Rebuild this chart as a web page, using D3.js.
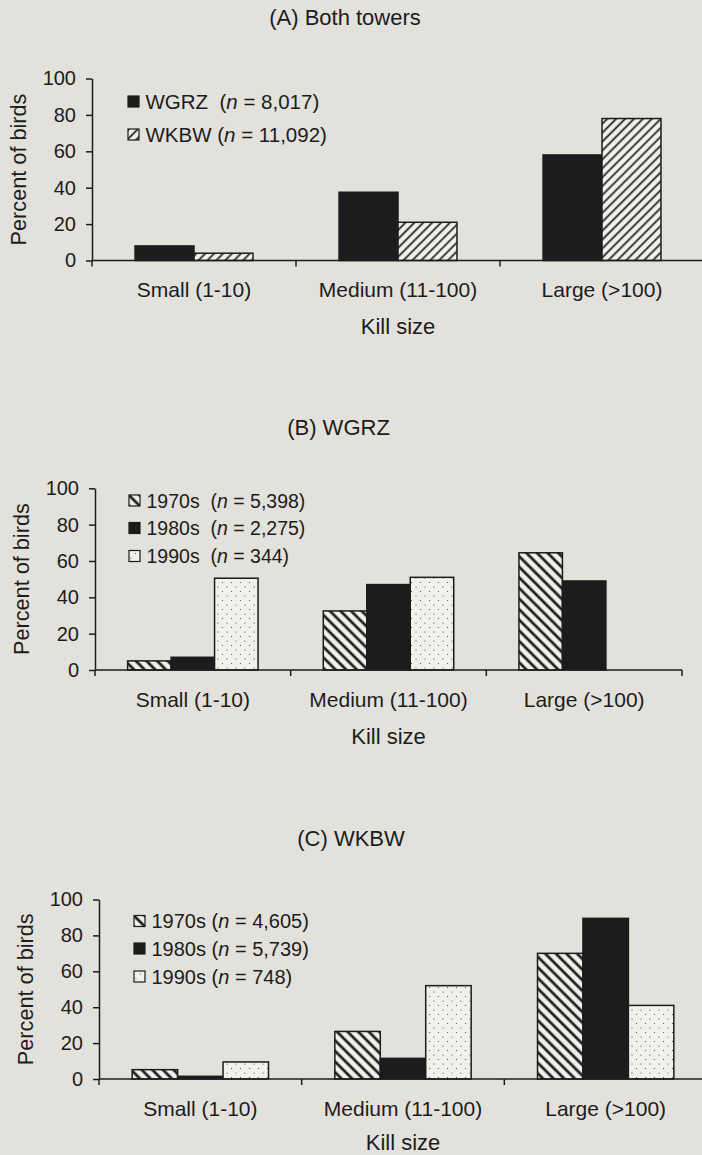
<!DOCTYPE html>
<html>
<head>
<meta charset="utf-8">
<script src="https://cdn.jsdelivr.net/npm/d3@7"></script>
<style>
  body { margin: 0; background: #e3e1db; }
  svg { display: block; font-family: "Liberation Sans", Arial, Helvetica, sans-serif; }
  text { fill: #1c1c1c; white-space: pre; }
</style>
</head>
<body>
<script>
// kill size charts, three panels

var categories = ["Small (1-10)", "Medium (11-100)", "Large (>100)"]
var yTicks = [0, 20, 40, 60, 80, 100]

// (A) both towers
var towerSeries = ["WGRZ", "WKBW"]
var towerN = ["8,017", "11,092"]
var bothWGRZ = [8, 37.5, 58]
var bothWKBW = [4, 21, 78]

// (B) WGRZ by decade
var decadeSeries = ["1970s", "1980s", "1990s"]
var wgrzN = ["5,398", "2,275", "344"]
var wgrz1970s = [5, 32.5, 64.5]
var wgrz1980s = [7, 47, 49]
var wgrz1990s = [50.5, 51, 0]

// (C) WKBW by decade
var wkbwN = ["4,605", "5,739", "748"]
var wkbw1970s = [5.2, 26.5, 70]
var wkbw1980s = [1.5, 11.5, 89.5]
var wkbw1990s = [9.5, 52, 41]

var ink = "#1c1c1c"
var paper = "#f1f0ec"

var svg = d3.select("body")
  .append("svg")
    .attr("width", 702)
    .attr("height", 1155)

// patterns for the bar fills
var defs = svg.append("defs")

function hatch(id, angle, gap, thick) {
    var pat = defs.append("pattern")
        .attr("id", id)
        .attr("patternUnits", "userSpaceOnUse")
        .attr("width", gap)
        .attr("height", gap)
        .attr("patternTransform", "rotate(" + angle + ")")
    pat.append("rect").attr("width", gap).attr("height", gap).attr("fill", paper)
    pat.append("line")
        .attr("x1", gap / 2).attr("x2", gap / 2)
        .attr("y1", 0).attr("y2", gap)
        .attr("stroke", ink)
        .attr("stroke-width", thick)
}
hatch("fwd", 45, 6.3, 1.7)    // WKBW  "/"
hatch("back", -45, 7.5, 2.7)  // 1970s "\"

var dots = defs.append("pattern")
    .attr("id", "dots")
    .attr("patternUnits", "userSpaceOnUse")
    .attr("width", 9)
    .attr("height", 9)
dots.append("rect").attr("width", 9).attr("height", 9).attr("fill", paper)
dots.append("circle").attr("cx", 2).attr("cy", 2).attr("r", 0.6).attr("fill", "#444")
dots.append("circle").attr("cx", 6.5).attr("cy", 6.5).attr("r", 0.6).attr("fill", "#444")

var panels = [
    {
        title: "(A) Both towers", titleX: 345, titleY: 25,
        left: 92, right: 704, top: 78.5, bottom: 260.5, pad: 0.73, endTick: false,
        series: towerSeries, counts: towerN, values: [bothWGRZ, bothWKBW],
        fills: [ink, "url(#fwd)"],
        gaps: ["  ", " "], legendSize: 20.5, killDy: 73.5,
        legendX: 128, legendY: [101.5, 134.5]
    },
    {
        title: "(B) WGRZ", titleX: 338.5, titleY: 435,
        left: 95, right: 682, top: 488.3, bottom: 670, pad: 0.75, endTick: true,
        series: decadeSeries, counts: wgrzN, values: [wgrz1970s, wgrz1980s, wgrz1990s],
        fills: ["url(#back)", ink, "url(#dots)"],
        gaps: ["  ", "  ", "  "], legendSize: 19.5, killDy: 74,
        legendX: 129, legendY: [500.5, 528, 556]
    },
    {
        title: "(C) WKBW", titleX: 351, titleY: 846,
        left: 99, right: 707, top: 899.5, bottom: 1079, pad: 0.73, endTick: false,
        series: decadeSeries, counts: wkbwN, values: [wkbw1970s, wkbw1980s, wkbw1990s],
        fills: ["url(#back)", ink, "url(#dots)"],
        gaps: [" ", " ", " "], legendSize: 20, killDy: 70.5,
        legendX: 134, legendY: [921, 948.5, 976.5]
    }
]

panels.forEach(drawPanel)

function drawPanel(p) {
    var g = svg.append("g")

    var x0 = d3.scaleBand().domain(categories).range([p.left, p.right])
    var x1 = d3.scaleBand().domain(p.series).range([0, x0.bandwidth()]).paddingOuter(p.pad)
    var y = d3.scaleLinear().domain([0, 100]).range([p.bottom, p.top])

    var rows = []
    categories.forEach(function(c, i) {
        p.series.forEach(function(s, j) {
            rows.push({cat: c, ser: s, value: p.values[j][i], fill: p.fills[j]})
        })
    })

    // bars
    g.selectAll("rect.bar")
        .data(rows.filter(function(d) { return d.value > 0 }))
        .enter()
        .append("rect")
            .attr("class", "bar")
            .attr("x", function(d) { return x0(d.cat) + x1(d.ser) })
            .attr("y", function(d) { return y(d.value) })
            .attr("width", x1.bandwidth())
            .attr("height", function(d) { return y(0) - y(d.value) })
            .attr("fill", function(d) { return d.fill })
            .attr("stroke", ink)
            .style("stroke-width", "1.5px")

    // y axis
    var yAxis = g.append("g")
        .attr("transform", "translate(" + p.left + ",0)")
        .call(d3.axisLeft(y).tickValues(yTicks).tickSize(6).tickPadding(10).tickSizeOuter(0))
    yAxis.selectAll("path, line").attr("stroke", ink).style("stroke-width", "1.5px")
    yAxis.selectAll("text").style("font-size", "20px").attr("fill", ink)

    // x axis: labels centered, ticks on the category edges
    var xAxis = g.append("g")
        .attr("transform", "translate(0," + y(0) + ")")
        .call(d3.axisBottom(x0).tickSize(0).tickPadding(22).tickSizeOuter(0))
    xAxis.select(".domain").remove()
    xAxis.selectAll("text").style("font-size", "21px").attr("fill", ink)

    g.append("line")
        .attr("x1", p.left).attr("x2", p.right)
        .attr("y1", y(0)).attr("y2", y(0))
        .attr("stroke", ink).style("stroke-width", "1.5px")

    var edges = [p.left].concat(categories.slice(1).map(function(c) { return x0(c) }))
    if (p.endTick) edges.push(p.right)
    g.selectAll("line.edge")
        .data(edges)
        .enter()
        .append("line")
            .attr("x1", function(d) { return d }).attr("x2", function(d) { return d })
            .attr("y1", y(0)).attr("y2", y(0) + 6)
            .attr("stroke", ink).style("stroke-width", "1.5px")

    // titles
    g.append("text")
        .attr("x", p.titleX).attr("y", p.titleY)
        .attr("text-anchor", "middle")
        .style("font-size", "22px")
        .text(p.title)

    g.append("text")
        .attr("x", (p.left + p.right) / 2).attr("y", y(0) + p.killDy)
        .attr("text-anchor", "middle")
        .style("font-size", "22px")
        .text("Kill size")

    g.append("text")
        .attr("transform", "translate(" + (p.left - 66) + "," + (p.top + p.bottom) / 2 + ") rotate(-90)")
        .attr("text-anchor", "middle")
        .style("font-size", "21.7px")
        .text("Percent of birds")

    // legend
    var leg = g.selectAll("g.leg")
        .data(p.series)
        .enter()
        .append("g")
            .attr("transform", function(d, i) { return "translate(" + p.legendX + "," + p.legendY[i] + ")" })

    leg.append("rect")
        .attr("x", 0).attr("y", -5.5)
        .attr("width", 11).attr("height", 11)
        .attr("fill", function(d, i) { return p.fills[i] })
        .attr("stroke", ink)
        .style("stroke-width", "1.2px")

    var lt = leg.append("text")
        .attr("x", 17.5).attr("y", 7)
        .style("font-size", p.legendSize + "px")
    lt.append("tspan").text(function(d, i) { return d + p.gaps[i] + "(" })
    lt.append("tspan").style("font-style", "italic").text("n")
    lt.append("tspan").text(function(d, i) { return " = " + p.counts[i] + ")" })
}
</script>
</body>
</html>
